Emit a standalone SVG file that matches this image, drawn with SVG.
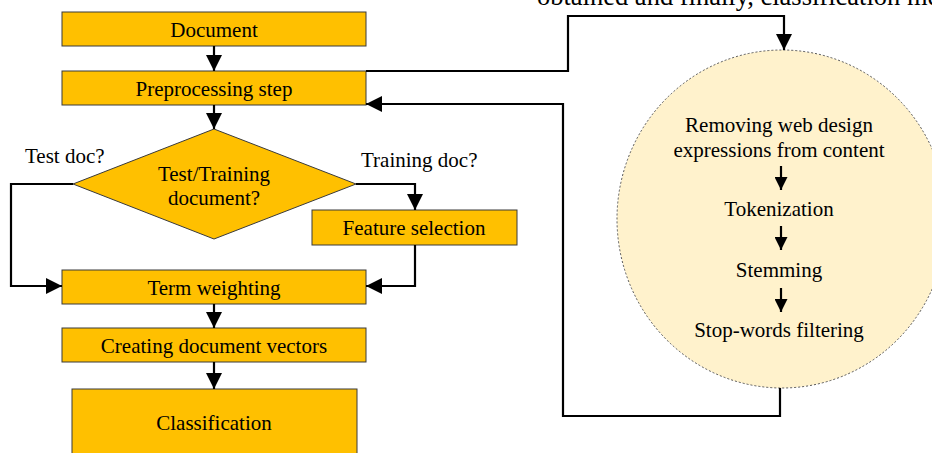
<svg xmlns="http://www.w3.org/2000/svg" width="932" height="453" viewBox="0 0 932 453">
<style>
text{font-family:"Liberation Serif","Times New Roman",serif;font-size:21px;fill:#000}
.c{text-anchor:middle}
.box{fill:#FFC000;stroke:#3a3a3a;stroke-width:1}
.ln{fill:none;stroke:#000;stroke-width:2.2}
</style>
<defs>
<marker id="ah" markerUnits="userSpaceOnUse" markerWidth="16" markerHeight="16" refX="16" refY="8" orient="auto">
<path d="M0,0 L16,8 L0,16 Z" fill="#000"/>
</marker>
<marker id="ahs" markerUnits="userSpaceOnUse" markerWidth="13" markerHeight="13" refX="13" refY="6.5" orient="auto">
<path d="M0,0 L13,6.5 L0,13 Z" fill="#000"/>
</marker>
</defs>
<text x="537" y="4.5" style="font-size:26.5px">obtained and finally, classification me</text>
<g id="preproc-circle">
<ellipse cx="782" cy="219" rx="165" ry="169" fill="#FFF2CC" stroke="#555" stroke-width="1" stroke-dasharray="2,2"/>
<text class="c" x="779" y="132">Removing web design</text>
<text class="c" x="779" y="157">expressions from content</text>
<text class="c" x="779" y="216">Tokenization</text>
<text class="c" x="779" y="277">Stemming</text>
<text class="c" x="779" y="337">Stop-words filtering</text>
</g>
<g id="document"><rect class="box" x="62" y="12" width="304" height="34"/><text class="c" x="214" y="36.5">Document</text></g>
<g id="preprocessing"><rect class="box" x="62" y="71" width="304" height="34"/><text class="c" x="214" y="95.5">Preprocessing step</text></g>
<g id="decision"><polygon class="box" points="214,129 356,184 214,239 73,184"/><text class="c" x="214" y="181">Test/Training</text><text class="c" x="214" y="205">document?</text></g>
<g id="feature"><rect class="box" x="312" y="210" width="205" height="35"/><text class="c" x="414" y="235">Feature selection</text></g>
<g id="term"><rect class="box" x="62" y="270" width="304" height="34"/><text class="c" x="214" y="295">Term weighting</text></g>
<g id="vectors"><rect class="box" x="62" y="328" width="304" height="34"/><text class="c" x="214" y="353">Creating document vectors</text></g>
<g id="classification"><rect class="box" x="72" y="389" width="285" height="80"/><text class="c" x="214" y="430">Classification</text></g>
<text x="25" y="163">Test doc?</text>
<text x="361" y="167">Training doc?</text>
<g id="connectors">
<path class="ln" d="M214,46 V71" marker-end="url(#ah)"/>
<path class="ln" d="M214,105 V129" marker-end="url(#ah)"/>
<path class="ln" d="M73,184 H11 V286 H62" marker-end="url(#ah)"/>
<path class="ln" d="M356,184 H415 V210" marker-end="url(#ah)"/>
<path class="ln" d="M415,245 V286 H366" marker-end="url(#ah)"/>
<path class="ln" d="M214,304 V328" marker-end="url(#ah)"/>
<path class="ln" d="M214,362 V389" marker-end="url(#ah)"/>
<path class="ln" d="M366,71 H568 V16 H784 V50" marker-end="url(#ah)"/>
<path class="ln" d="M780,388 V416 H563 V104 H366" marker-end="url(#ah)"/>
<path class="ln" d="M781,166 V190" marker-end="url(#ahs)"/>
<path class="ln" d="M781,226 V250" marker-end="url(#ahs)"/>
<path class="ln" d="M781,288 V312" marker-end="url(#ahs)"/>
</g>
</svg>
